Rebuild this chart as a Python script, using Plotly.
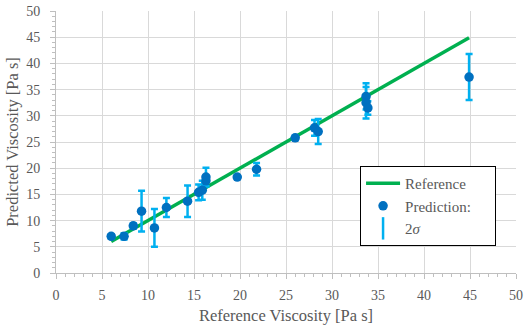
import plotly.graph_objects as go

# Data
ref_visc = [6.0, 7.4, 8.4, 9.3, 10.7, 12.0, 14.3, 15.5, 15.9, 16.3, 16.3, 19.7, 21.8, 26.0, 28.1, 28.5, 33.7, 33.7, 33.9, 44.9]
pred_visc = [7.0, 7.0, 9.0, 11.8, 8.6, 12.5, 13.7, 15.4, 15.8, 18.3, 17.6, 18.3, 19.8, 25.8, 27.7, 27.0, 33.7, 32.5, 31.5, 37.4]
two_sigma = [0.4, 0.6, 0.5, 3.9, 3.6, 1.8, 3.0, 1.5, 1.8, 1.8, 1.0, 0.3, 1.2, 0.4, 1.5, 2.4, 2.5, 3.0, 1.3, 4.4]
line_x = [6.0, 44.9]
line_y = [6.0, 44.9]

axis_ticks = [0, 5, 10, 15, 20, 25, 30, 35, 40, 45, 50]

FONT = "Liberation Serif"
GRAY = "#595959"

fig = go.Figure()

fig.add_trace(go.Scatter(
    x=line_x, y=line_y, mode="lines", name="Reference",
    line=dict(color="#00B050", width=3.5),
))
fig.add_trace(go.Scatter(
    x=ref_visc, y=pred_visc, mode="markers", name="Prediction:\u00a0\u00a0\u00a0\u00a0\u00a0",
    marker=dict(color="#0070C0", size=9.5),
    error_y=dict(type="data", array=two_sigma, visible=True,
                 color="#00B0F0", thickness=2.5, width=3.5),
))
# legend-only entry for the 2σ error bar
fig.add_trace(go.Scatter(
    x=[None], y=[None], mode="markers", name="2<i>σ</i>",
    marker=dict(symbol="line-ns", size=27, color="#00B0F0",
                line=dict(color="#00B0F0", width=2.5)),
))

axis_common = dict(
    range=[0, 50], tickvals=axis_ticks, ticktext=[str(t) for t in axis_ticks],
    showgrid=True, gridcolor="#D9D9D9", gridwidth=1,
    showline=True, linecolor="#BFBFBF", linewidth=1,
    ticks="outside", ticklen=5, tickcolor="#BFBFBF", tickwidth=1,
    minor=dict(dtick=1, ticks="outside", ticklen=3, tickcolor="#BFBFBF", showgrid=False),
    zeroline=False, automargin=False,
    tickfont=dict(family=FONT, size=14, color=GRAY),
)

fig.update_xaxes(**axis_common, ticklabelstandoff=4,
                 title=dict(text="Reference Viscosity [Pa s]", font=dict(family=FONT, size=16.5, color=GRAY), standoff=7))
fig.update_yaxes(**axis_common, ticklabelstandoff=7,
                 title=dict(text="Predicted Viscosity [Pa s]", font=dict(family=FONT, size=16.5, color=GRAY), standoff=3))

fig.update_layout(
    width=524, height=330,
    margin=dict(l=56, r=8, t=11, b=57, autoexpand=False),
    paper_bgcolor="white", plot_bgcolor="white",
    font=dict(family=FONT, size=14, color=GRAY),
    showlegend=True,
    legend=dict(
        x=0.661, y=0.408, xanchor="left", yanchor="top",
        bgcolor="white", bordercolor="black", borderwidth=1,
        font=dict(family=FONT, size=15, color=GRAY),
        itemwidth=34, tracegroupgap=0,
    ),
)

fig.write_html("out.html", config={"displayModeBar": False},
               post_script="document.body.style.margin='0';document.body.style.padding='0';")
